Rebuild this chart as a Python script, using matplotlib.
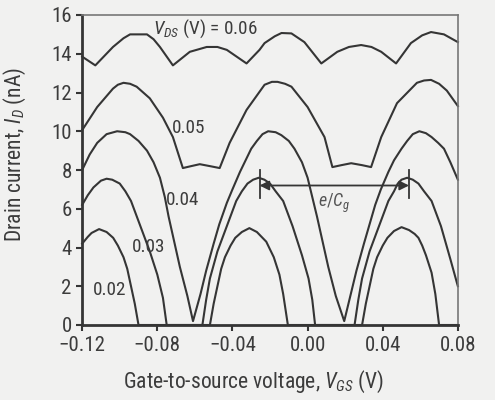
import numpy as np
import matplotlib
matplotlib.use("Agg")
import matplotlib.pyplot as plt

plt.rcParams['font.family'] = ['Roboto Condensed', 'Liberation Sans']
plt.rcParams['mathtext.fontset'] = 'custom'
plt.rcParams['mathtext.rm'] = 'Roboto Condensed'
plt.rcParams['mathtext.it'] = 'Roboto Condensed:italic'

# curves, V_GS in volts, I_D in nA
vds_006_x = [-0.120, -0.113, -0.1036, -0.098, -0.0945, -0.0855, -0.082, -0.0786, -0.0717, -0.0627,
             -0.0537, -0.048, -0.043, -0.0325, -0.0256, -0.0229, -0.0175, -0.0139, -0.0086, -0.0017,
             0.0073, 0.0158, 0.022, 0.0285, 0.034, 0.0392, 0.0471, 0.055, 0.061, 0.0657, 0.0726, 0.080]
vds_006_y = [13.85, 13.4, 14.35, 14.8, 15.0, 15.0, 14.75, 14.35, 13.4, 14.1,
             14.35, 14.35, 14.2, 13.5, 14.2, 14.55, 14.9, 15.07, 15.05, 14.6,
             13.5, 14.1, 14.35, 14.45, 14.35, 14.1, 13.5, 14.55, 14.95, 15.12, 15.0, 14.6]

vds_005_x = [-0.120, -0.112, -0.1036, -0.101, -0.098, -0.0945, -0.091, -0.084, -0.077, -0.0717,
             -0.0664, -0.062, -0.0574, -0.052, -0.0468, -0.0415, -0.0325, -0.0229, -0.019, -0.016,
             -0.012, -0.0086, 0.000, 0.009, 0.0132, 0.018, 0.0232, 0.029, 0.0338, 0.0392,
             0.0476, 0.0582, 0.062, 0.0657, 0.070, 0.0741, 0.080]
vds_005_y = [10.06, 11.25, 12.2, 12.4, 12.5, 12.45, 12.3, 11.7, 10.7, 9.7,
             8.1, 8.2, 8.3, 8.2, 8.1, 9.4, 11.1, 12.4, 12.55, 12.55,
             12.45, 12.3, 11.25, 9.7, 8.15, 8.25, 8.35, 8.25, 8.15, 9.7,
             11.45, 12.5, 12.62, 12.65, 12.45, 12.1, 11.3]

vds_004_x = [-0.120, -0.116, -0.112, -0.107, -0.1014, -0.097, -0.0945, -0.090, -0.0855, -0.082,
             -0.0786, -0.076, -0.074, -0.071, -0.068, -0.064, -0.061,
             -0.057, -0.054, -0.050, -0.047, -0.043, -0.040, -0.036, -0.033, -0.030, -0.027,
             -0.024, -0.021, -0.017, -0.014, -0.010, -0.007, -0.003, 0.000, 0.0025, 0.005,
             0.008, 0.011, 0.015, 0.0195,
             0.023, 0.026, 0.030, 0.033, 0.036, 0.039, 0.043, 0.046, 0.050, 0.053,
             0.056, 0.0595, 0.063, 0.066, 0.0695, 0.0726, 0.076, 0.080]
vds_004_y = [8.0, 8.8, 9.4, 9.85, 10.0, 9.95, 9.85, 9.5, 9.0, 8.4,
             7.6, 6.6, 5.6, 4.3, 3.0, 1.5, 0.2,
             1.6, 2.8, 4.2, 5.2, 6.3, 7.0, 7.9, 8.5, 9.1, 9.5,
             9.85, 10.0, 9.95, 9.8, 9.5, 9.1, 8.4, 7.6, 6.6, 5.6,
             4.3, 3.0, 1.5, 0.2,
             1.6, 2.8, 4.2, 5.2, 6.2, 7.0, 7.9, 8.5, 9.1, 9.5,
             9.85, 10.0, 9.9, 9.7, 9.4, 9.1, 8.4, 7.5]

vds_003_x = [-0.120, -0.117, -0.114, -0.110, -0.107, -0.104, -0.100, -0.097, -0.094, -0.089,
             -0.084, -0.080, -0.077, -0.075,
             -0.056, -0.054, -0.052, -0.048, -0.043, -0.038, -0.035, -0.032, -0.029, -0.026,
             -0.023, -0.020, -0.017, -0.013, -0.008, -0.003, 0.0005, 0.0025, 0.004,
             0.025, 0.027, 0.029, 0.033, 0.038, 0.043, 0.046, 0.048, 0.050, 0.053,
             0.056, 0.059, 0.062, 0.066, 0.071, 0.076, 0.080]
vds_003_y = [6.2, 6.7, 7.1, 7.45, 7.55, 7.5, 7.3, 6.9, 6.4, 5.1,
             3.8, 2.6, 1.4, 0.0,
             0.0, 1.3, 2.4, 3.8, 5.1, 6.4, 6.9, 7.3, 7.5, 7.6,
             7.5, 7.3, 6.9, 6.4, 5.1, 3.6, 2.4, 1.3, 0.0,
             0.0, 1.3, 2.4, 3.8, 5.1, 6.4, 6.9, 7.3, 7.5, 7.6,
             7.5, 7.3, 6.9, 6.4, 5.1, 3.4, 2.0]

vds_002_x = [-0.120, -0.117, -0.115, -0.111, -0.107, -0.1035, -0.101, -0.098, -0.096, -0.094,
             -0.092, -0.090,
             -0.052, -0.050, -0.048, -0.046, -0.044, -0.041, -0.0385, -0.035, -0.031, -0.027,
             -0.024, -0.022, -0.020, -0.018, -0.015, -0.013, -0.0105,
             0.029, 0.031, 0.033, 0.035, 0.037, 0.040, 0.0425, 0.046, 0.050, 0.054,
             0.057, 0.059, 0.061, 0.063, 0.066, 0.068, 0.070, 0.080]
vds_002_y = [4.2, 4.55, 4.75, 4.95, 4.8, 4.5, 4.1, 3.5, 2.9, 2.0,
             1.1, 0.0,
             0.0, 1.1, 2.0, 2.9, 3.5, 4.1, 4.5, 4.8, 5.0, 4.8,
             4.5, 4.3, 3.9, 3.5, 2.6, 1.6, 0.0,
             0.0, 1.1, 2.0, 2.9, 3.5, 4.1, 4.5, 4.85, 5.05, 4.9,
             4.7, 4.5, 4.1, 3.6, 2.7, 1.6, 0.0, 0.0]

curves_x = [vds_006_x, vds_005_x, vds_004_x, vds_003_x, vds_002_x]
curves_y = [vds_006_y, vds_005_y, vds_004_y, vds_003_y, vds_002_y]

curve_labels = ['$V_{DS}$ (V) = 0.06', '0.05', '0.04', '0.03', '0.02']
label_pos = [(-0.0825, 15.3), (-0.0725, 10.15), (-0.0755, 6.45), (-0.0935, 4.0), (-0.1145, 1.8)]

xticks = [-0.12, -0.08, -0.04, 0.00, 0.04, 0.08]
yticks = [0, 2, 4, 6, 8, 10, 12, 14, 16]

# e/Cg period arrow
arrow_x0, arrow_x1, arrow_y = -0.0256, 0.054, 7.2

bg = '#f1f1f0'
ink = '#353535'
txt_col = '#3c3c3c'

fig = plt.figure(figsize=(4.95, 4.0), dpi=100, facecolor=bg)
ax = fig.add_axes([0.166, 0.1875, 0.759, 0.775], facecolor=bg)

for xs, ys in zip(curves_x, curves_y):
    ax.plot(xs, ys, color=ink, lw=1.5, solid_joinstyle='round', clip_on=False)

for txt, (tx, ty) in zip(curve_labels, label_pos):
    ax.text(tx, ty, txt, fontsize=13.8, color=txt_col, va='center', ha='left')

ax.annotate('', xy=(arrow_x0, arrow_y), xytext=(arrow_x1, arrow_y),
            arrowprops=dict(arrowstyle='<|-|>', color=ink, lw=1.3, mutation_scale=14,
                            shrinkA=0, shrinkB=0))
ax.plot([arrow_x0, arrow_x0], [6.55, 8.0], color=ink, lw=1.3)
ax.plot([arrow_x1, arrow_x1], [6.55, 8.0], color=ink, lw=1.3)
ax.text((arrow_x0 + arrow_x1) / 2, 6.3, '$e/C_g$', fontsize=13, color='#555555',
        ha='center', va='center')

ax.set_xlim(-0.12, 0.08)
ax.set_ylim(0, 16)
ax.set_xticks(xticks)
ax.set_xticklabels(['\u22120.12', '\u22120.08', '\u22120.04', '0.00', '0.04', '0.08'])
ax.set_yticks(yticks)
ax.tick_params(axis='both', labelsize=15, colors=ink, labelcolor=txt_col, width=1.5,
               length=4, direction='out')
ax.tick_params(axis='x', pad=4)

for side in ['left', 'bottom']:
    ax.spines[side].set_linewidth(2.0)
    ax.spines[side].set_color(ink)
for side in ['top', 'right']:
    ax.spines[side].set_linewidth(1.2)
    ax.spines[side].set_color('#777777')

ax.set_xlabel('Gate-to-source voltage, $V_{GS}$ (V)', fontsize=15.5, color=txt_col)
ax.set_ylabel('Drain current, $I_D$ (nA)', fontsize=15.5, color=txt_col)
ax.xaxis.set_label_coords(0.455, -0.14)
ax.yaxis.set_label_coords(-0.145, 0.55)

plt.savefig('out.png', dpi=100, facecolor=bg)
